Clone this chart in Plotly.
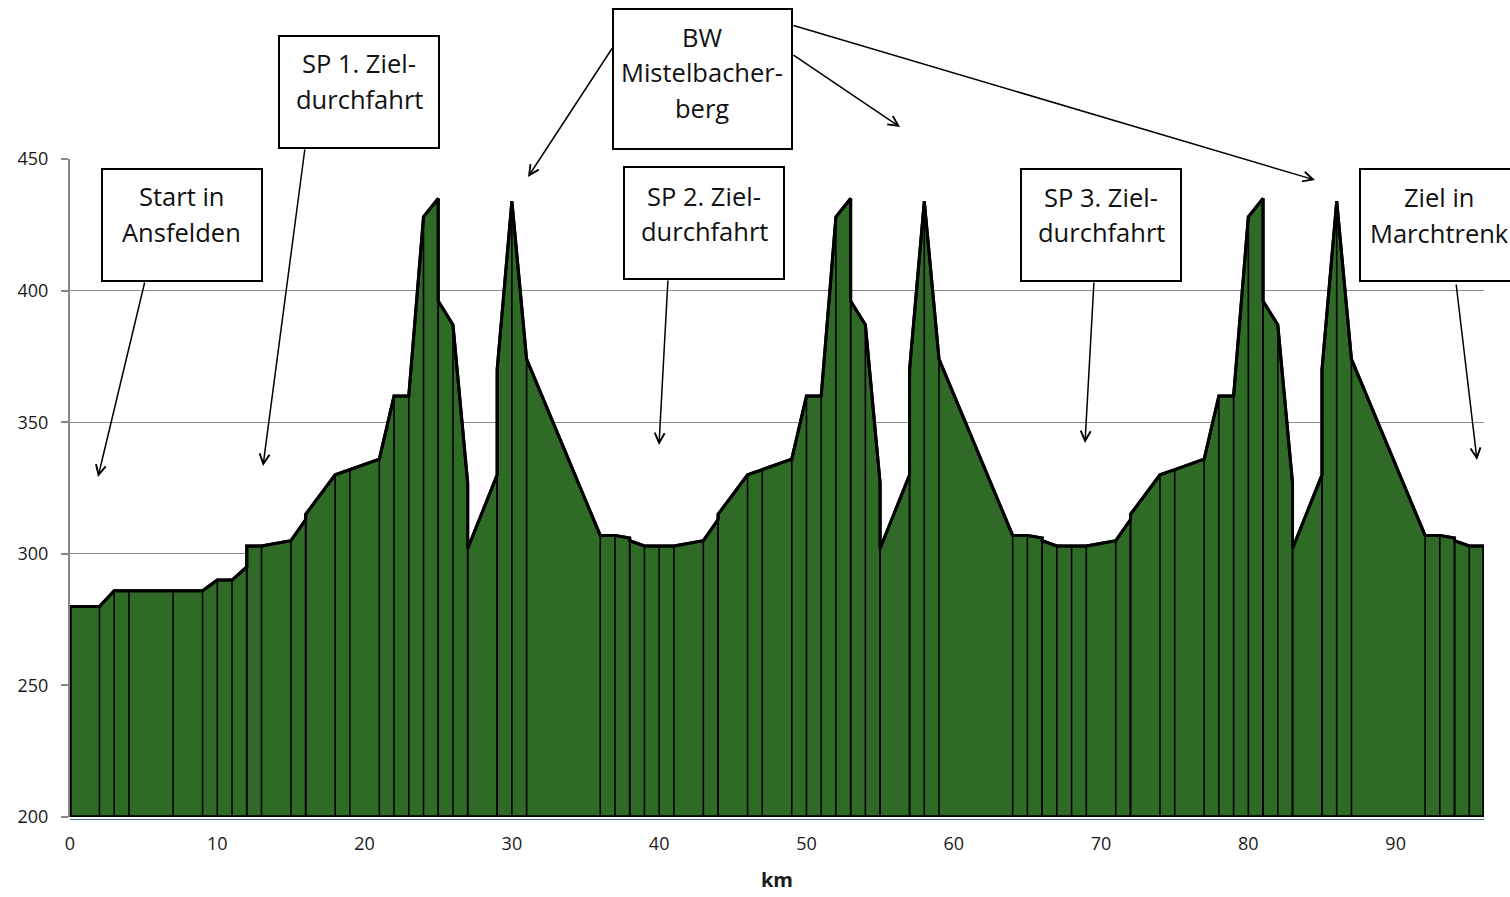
import plotly.graph_objects as go

# ---- data ----
km = [0, 2, 3, 4, 7, 9, 10, 11, 12, 12, 13, 15, 16, 16, 18, 19, 21, 22, 23, 24, 25, 25, 26, 27, 27, 29, 29, 30, 31,
      36, 37, 38, 38, 39, 40, 41, 43, 44, 44, 46, 47, 49, 50, 51, 52, 53, 53, 54, 55, 55, 57, 57, 58, 59,
      64, 65, 66, 66, 67, 68, 69, 71, 72, 72, 74, 75, 77, 78, 79, 80, 81, 81, 82, 83, 83, 85, 85, 86, 87,
      92, 93, 94, 94, 95, 96]
hoehe = [280, 280, 286, 286, 286, 286, 290, 290, 295, 303, 303, 305, 313, 315, 330, 332, 336, 360, 360, 428, 435, 396, 387, 327, 302, 330, 370, 434, 374,
         307, 307, 306, 305, 303, 303, 303, 305, 313, 315, 330, 332, 336, 360, 360, 428, 435, 396, 387, 327, 302, 330, 370, 434, 374,
         307, 307, 306, 305, 303, 303, 303, 305, 313, 315, 330, 332, 336, 360, 360, 428, 435, 396, 387, 327, 302, 330, 370, 434, 374,
         307, 307, 306, 305, 303, 303]
y_ticks = [200, 250, 300, 350, 400, 450]
x_ticks = [0, 10, 20, 30, 40, 50, 60, 70, 80, 90]
y_min, y_max = 200, 450
x_min, x_max = 0, 96

# annotation boxes: (lines, box pixel rect [x0, y0, x1, y1], text centre x, line centre ys) in page pixels
boxes = [
    (["Start in", "Ansfelden"], [102, 169, 262, 281], 181, [196, 232]),
    (["SP 1. Ziel-", "durchfahrt"], [279, 36, 439, 148], 359, [63, 99]),
    (["BW", "Mistelbacher-", "berg"], [613, 9, 792, 149], 702, [37, 72, 108]),
    (["SP 2. Ziel-", "durchfahrt"], [624, 167, 784, 279], 704, [196, 231]),
    (["SP 3. Ziel-", "durchfahrt"], [1021, 169, 1181, 281], 1101, [197, 232]),
    (["Ziel in", "Marchtrenk"], [1360, 169, 1520, 281], 1439, [197, 233]),
]
# arrows: (tail px, head px) in page pixels
arrows = [
    ((145, 281), (98, 477)),
    ((305, 148), (263, 466)),
    ((613, 47), (528, 177)),
    ((792, 54), (900, 127)),
    ((792, 25), (1315, 180)),
    ((668, 279), (659, 445)),
    ((1094, 281), (1085, 443)),
    ((1456, 283), (1477, 460)),
]

# ---- layout geometry (page pixels) ----
W, H = 1510, 897
L, R, T, B = 70, 1484, 159, 817


def px(x):
    return (x - L) / (R - L)


def py(y):
    return (B - y) / (B - T)


fig = go.Figure()

# area polygon (closed along the baseline)
poly_x = km + [km[-1], km[0], km[0]]
poly_y = hoehe + [y_min, y_min, hoehe[0]]
fig.add_trace(go.Scatter(x=poly_x, y=poly_y, mode="lines", fill="toself",
                         fillcolor="#2F6B26", line=dict(color="black", width=3),
                         hoverinfo="skip", showlegend=False))

# drop lines
dx, dy = [], []
for xv, yv in zip(km, hoehe):
    dx += [xv, xv, None]
    dy += [y_min, yv, None]
fig.add_trace(go.Scatter(x=dx, y=dy, mode="lines", line=dict(color="black", width=1.6),
                         hoverinfo="skip", showlegend=False))

# outline again on top of drop lines
fig.add_trace(go.Scatter(x=poly_x, y=poly_y, mode="lines",
                         line=dict(color="black", width=3),
                         hoverinfo="skip", showlegend=False))

shapes = []
annotations = []
for lines, (x0, y0, x1, y1), cx, lys in boxes:
    shapes.append(dict(type="rect", xref="paper", yref="paper",
                       x0=px(x0), x1=px(x1), y0=py(y1), y1=py(y0),
                       line=dict(color="black", width=2), fillcolor="white", layer="above"))
    for txt, ly in zip(lines, lys):
        annotations.append(dict(text=txt, xref="paper", yref="paper", x=px(cx), y=py(ly),
                                xanchor="center", yanchor="middle", showarrow=False,
                                font=dict(family="Open Sans", size=25.5, color="#111111")))

for (tx, ty), (hx, hy) in arrows:
    annotations.append(dict(text="", xref="paper", yref="paper", x=px(hx), y=py(hy),
                            ax=tx - hx, ay=ty - hy, axref="pixel", ayref="pixel",
                            showarrow=True, arrowhead=5, arrowsize=1.3, arrowwidth=1.5,
                            arrowcolor="black", standoff=0, startstandoff=0))

# thin axis line below baseline
shapes.append(dict(type="line", xref="paper", yref="paper", x0=0, x1=1,
                   y0=py(B + 2.5), y1=py(B + 2.5), line=dict(color="#4A76B0", width=1)))

fig.update_layout(
    width=W, height=H,
    margin=dict(l=L, r=W - R, t=T, b=H - B, pad=0),
    paper_bgcolor="white", plot_bgcolor="white",
    shapes=shapes, annotations=annotations,
    showlegend=False,
    font=dict(family="Open Sans", color="#1a1a1a"),
)
fig.update_xaxes(range=[x_min, x_max], tickvals=x_ticks, ticks="", showgrid=False,
                 zeroline=False, showline=False, automargin=False,
                 tickfont=dict(size=18, color="#1a1a1a"), ticklabelstandoff=14,
                 title=dict(text="<b>km</b>", font=dict(size=20, color="#1a1a1a"), standoff=18))
fig.update_yaxes(range=[y_min, y_max], tickvals=y_ticks, ticks="outside", ticklen=7,
                 tickcolor="#868686", tickwidth=1.5, automargin=False,
                 showgrid=True, gridcolor="#8C8C8C", gridwidth=1.3,
                 zeroline=False, showline=True, linecolor="#868686", linewidth=2,
                 tickfont=dict(size=18, color="#1a1a1a"), ticklabelstandoff=9)

post = ("document.body.style.margin='0';document.body.style.overflow='hidden';"
        "document.documentElement.style.overflow='hidden';")
fig.write_html("out.html", post_script=post, config={"displayModeBar": False})
